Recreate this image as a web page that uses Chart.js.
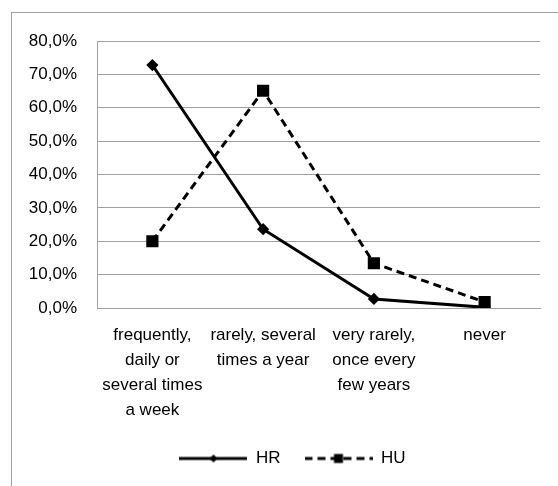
<!DOCTYPE html>
<html>
<head>
<meta charset="utf-8">
<script src="https://cdn.jsdelivr.net/npm/chart.js@4.4.1/dist/chart.umd.min.js"></script>
<style>
  html, body { margin: 0; padding: 0; background: #fff; overflow: hidden; }
  #wrap { position: relative; width: 558px; height: 486px; }
  #frame { position: absolute; left: 11px; top: 12px; width: 600px; height: 600px; border: 1px solid #a0a0a0; box-sizing: border-box; }
  #chart { position: absolute; left: 0; top: 0; }
</style>
</head>
<body>
<div id="wrap">
  <div id="frame"></div>
  <canvas id="chart" width="558" height="486"></canvas>
</div>
<script>
// categorias e valores (%)
const categorias = [
  ['frequently,', 'daily or', 'several times', 'a week'],
  ['rarely, several', 'times a year'],
  ['very rarely,', 'once every', 'few years'],
  ['never']
];
const valoresHR = [72.8, 23.6, 2.7, 0.2];
const valoresHU = [20.0, 65.1, 13.4, 1.8];
const ticksY = [0, 10, 20, 30, 40, 50, 60, 70, 80];

const fonte = 'Liberation Sans, Arial, sans-serif';

// simbolo da legenda: linha + marcador
function simbolo(tracejado, marcador) {
  const c = document.createElement('canvas');
  c.width = 68; c.height = 14;
  const ctx = c.getContext('2d');
  ctx.strokeStyle = '#000';
  ctx.fillStyle = '#000';
  ctx.lineWidth = 3;
  if (tracejado) ctx.setLineDash([8, 5]);
  ctx.beginPath();
  ctx.moveTo(0, 7);
  ctx.lineTo(68, 7);
  ctx.stroke();
  ctx.setLineDash([]);
  ctx.beginPath();
  if (marcador === 'losango') {
    ctx.moveTo(34, 3); ctx.lineTo(38, 7); ctx.lineTo(34, 11); ctx.lineTo(30, 7);
  } else {
    ctx.rect(29.5, 2.5, 9, 9);
  }
  ctx.closePath();
  ctx.fill();
  return c;
}
const simbolos = [simbolo(false, 'losango'), simbolo(true, 'quadrado')];

// os rotulos do eixo y ficam fora da caixa estreita do eixo: nao cortar
const semCorte = {
  id: 'semCorte',
  afterLayout(chart) { chart.scales.y.left = 0; }
};

const data = {
  labels: categorias,
  datasets: [{
    label: 'HR',
    data: valoresHR,
    borderColor: '#000',
    backgroundColor: '#000',
    borderWidth: 3,
    pointStyle: 'rectRot',
    pointRadius: 4,
    pointHoverRadius: 4,
    tension: 0
  }, {
    label: 'HU',
    data: valoresHU,
    borderColor: '#000',
    backgroundColor: '#000',
    borderWidth: 3,
    borderDash: [8, 5],
    pointStyle: 'rect',
    pointRadius: 6.5,
    pointHoverRadius: 6.5,
    tension: 0
  }]
};

const config = {
  type: 'line',
  data: data,
  plugins: [semCorte],
  options: {
    responsive: false,
    animation: false,
    layout: { padding: { left: 45, right: 18, top: 41, bottom: 9 } },
    scales: {
      x: {
        offset: true,
        afterFit: (scale) => { scale.height = scale.height - 12; },
        grid: { display: false, drawTicks: false, offset: true },
        border: { display: true, color: '#a0a0a0', width: 1 },
        ticks: {
          color: '#000',
          padding: 15,
          maxRotation: 0,
          autoSkip: false,
          font: { family: fonte, size: 17, lineHeight: 25 / 17 }
        }
      },
      y: {
        min: 0,
        max: 80,
        afterFit: (scale) => { scale.width = 52; },
        afterBuildTicks: (scale) => { scale.ticks = ticksY.map(v => ({ value: v })); },
        grid: { color: '#a0a0a0', lineWidth: 1, drawTicks: false },
        border: { display: true, color: '#a0a0a0', width: 1 },
        ticks: {
          color: '#000',
          padding: 20,
          font: { family: fonte, size: 17 },
          callback: (v) => v.toFixed(1).replace('.', ',') + '%'
        }
      }
    },
    plugins: {
      tooltip: { enabled: false },
      legend: {
        position: 'bottom',
        labels: {
          color: '#000',
          usePointStyle: true,
          pointStyleWidth: 68,
          padding: 24,
          font: { family: fonte, size: 17 },
          generateLabels: (chart) => {
            const itens = Chart.defaults.plugins.legend.labels.generateLabels(chart);
            itens.forEach((it, i) => { it.pointStyle = simbolos[i]; });
            return itens;
          }
        }
      }
    }
  }
};

const grafico = new Chart(document.getElementById('chart'), config);
</script>
</body>
</html>
